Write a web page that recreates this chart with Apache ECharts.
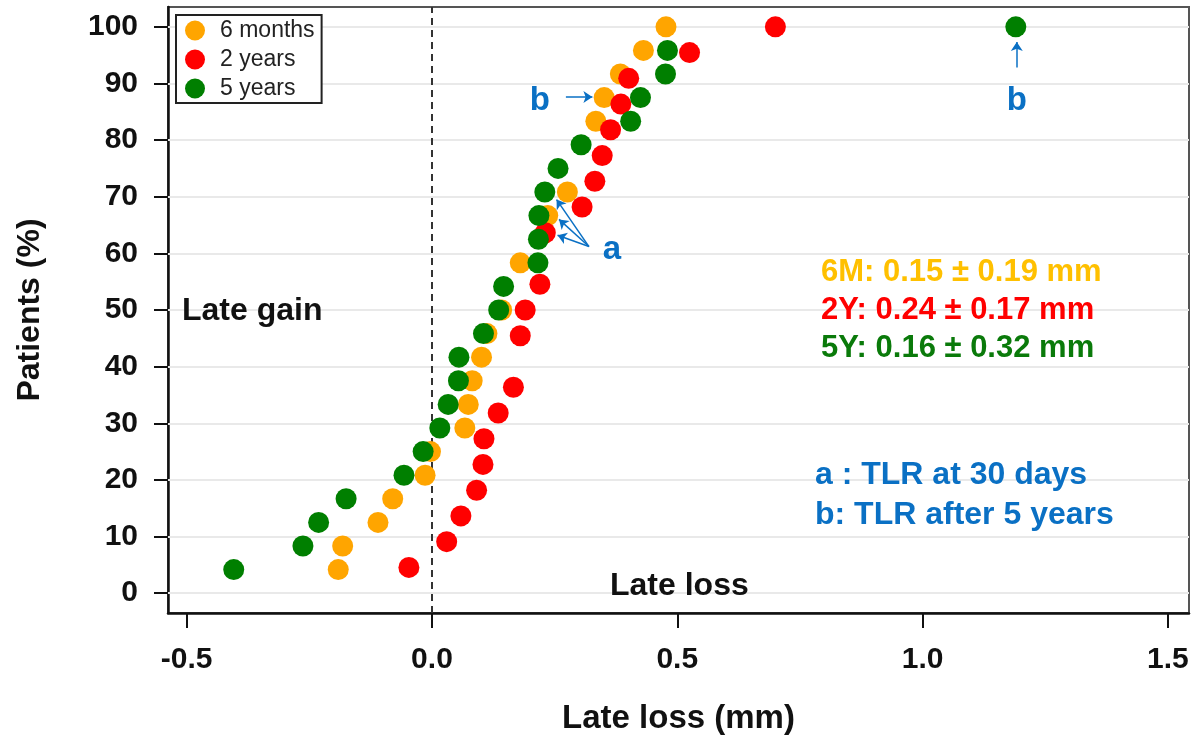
<!DOCTYPE html>
<html>
<head>
<meta charset="utf-8">
<script src="https://cdn.jsdelivr.net/npm/echarts@6/dist/echarts.min.js"></script>
<style>
html, body { margin: 0; padding: 0; background: #fff; }
#main { width: 1192px; height: 735px; }
</style>
</head>
<body>
<div id="main"></div>
<script>
// tick labels
var xTicks = [-0.5, 0.0, 0.5, 1.0, 1.5];
var yTicks = [0, 10, 20, 30, 40, 50, 60, 70, 80, 90, 100];

// 6 months: cumulative % of patients vs late loss (mm)
var pct6m  = [4.17, 8.33, 12.5, 16.67, 20.83, 25, 29.17, 33.33, 37.5, 41.67, 45.83, 50, 58.33, 66.67, 70.83, 83.33, 87.5, 91.67, 95.83, 100];
var loss6m = [-0.191, -0.182, -0.110, -0.080, -0.014, -0.003, 0.067, 0.074, 0.082, 0.101, 0.112, 0.142, 0.180, 0.236, 0.276, 0.334, 0.351, 0.384, 0.431, 0.477];

// 2 years
var pct2y  = [4.55, 9.09, 13.64, 18.18, 22.73, 27.27, 31.82, 36.36, 45.45, 50, 54.55, 63.64, 68.18, 72.73, 77.27, 81.82, 86.36, 90.91, 95.45, 100];
var loss2y = [-0.047, 0.030, 0.059, 0.091, 0.104, 0.106, 0.135, 0.166, 0.180, 0.190, 0.220, 0.231, 0.306, 0.332, 0.347, 0.364, 0.385, 0.401, 0.525, 0.700];

// 5 years
var pct5y  = [4.17, 8.33, 12.5, 16.67, 20.83, 25, 29.17, 33.33, 37.5, 41.67, 45.83, 50, 54.17, 58.33, 62.5, 66.67, 70.83, 75, 79.17, 83.33, 87.5, 91.67, 95.83, 100];
var loss5y = [-0.404, -0.263, -0.231, -0.175, -0.057, -0.018, 0.016, 0.033, 0.054, 0.055, 0.105, 0.136, 0.146, 0.216, 0.217, 0.218, 0.230, 0.257, 0.304, 0.405, 0.425, 0.476, 0.480, 1.190];

var seriesNames = ['6 months', '2 years', '5 years'];
var seriesColors = ['#FFA500', '#FF0000', '#007F00'];

var FONT = 'Liberation Sans, Arial, Helvetica, sans-serif';
var BLUE = '#0A70C4';

function pairs(xs, ys) {
  var out = [];
  for (var i = 0; i < xs.length; i++) out.push([xs[i], ys[i]]);
  return out;
}

function note(x, y, text, color, size) {
  return {
    type: 'text', x: x, y: y, z: 100,
    style: { text: text, fill: color, font: 'bold ' + size + 'px ' + FONT, verticalAlign: 'middle' }
  };
}

var myChart = echarts.init(document.getElementById('main'));

var option = {
  animation: false,
  backgroundColor: '#fff',
  grid: {
    left: 168, right: 3, top: 7, bottom: 122,
    outerBoundsMode: 'none',
    containLabel: false,
    show: true, borderColor: '#555', borderWidth: 2
  },
  legend: {
    data: seriesNames,
    orient: 'vertical',
    left: 176, top: 15,
    z: 50,
    icon: 'circle',
    itemWidth: 20, itemHeight: 20,
    itemGap: 6,
    padding: [4, 7, 3, 9],
    borderColor: '#222', borderWidth: 2,
    backgroundColor: '#fff',
    textStyle: { fontFamily: FONT, fontSize: 23, color: '#222', padding: [0, 0, 0, 10] }
  },
  xAxis: {
    type: 'value',
    min: -0.538, max: 1.543,
    name: 'Late loss (mm)',
    nameLocation: 'middle',
    nameGap: 89,
    nameTextStyle: { fontFamily: FONT, fontSize: 33, fontWeight: 'bold', color: '#111' },
    axisLine: { show: true, onZero: false, lineStyle: { color: '#111', width: 2.5 } },
    axisTick: { show: true, length: 15, customValues: xTicks, lineStyle: { color: '#111', width: 2 } },
    axisLabel: {
      show: true, margin: 32, customValues: xTicks,
      fontFamily: FONT, fontSize: 30, fontWeight: 'bold', color: '#111',
      formatter: function (v) { return v.toFixed(1); }
    },
    splitLine: { show: false }
  },
  yAxis: {
    type: 'value',
    min: -3.5, max: 103.5,
    name: 'Patients (%)',
    nameLocation: 'middle',
    nameGap: 122,
    nameTextStyle: { fontFamily: FONT, fontSize: 32, fontWeight: 'bold', color: '#111' },
    axisLine: { show: true, onZero: false, lineStyle: { color: '#111', width: 2.5 } },
    axisTick: { show: true, length: 14, customValues: yTicks, lineStyle: { color: '#111', width: 2 } },
    axisLabel: {
      show: true, margin: 30, customValues: yTicks,
      fontFamily: FONT, fontSize: 30, fontWeight: 'bold', color: '#111'
    },
    splitLine: { show: false }
  },
  series: [
    {
      name: 'guides',
      type: 'scatter',
      data: [],
      silent: true,
      z: 1,
      markLine: {
        z: 1,
        silent: true,
        symbol: 'none',
        animation: false,
        label: { show: false },
        data: yTicks.map(function (v) {
          return { yAxis: v, lineStyle: { color: '#e9e9e9', width: 2, type: 'solid' } };
        }).concat([
          { xAxis: 0, lineStyle: { color: '#333', width: 2, type: [7, 5] } }
        ])
      }
    },
    {
      name: seriesNames[0], type: 'scatter', symbolSize: 21, z: 2,
      itemStyle: { color: seriesColors[0], opacity: 1 },
      data: pairs(loss6m, pct6m)
    },
    {
      name: seriesNames[1], type: 'scatter', symbolSize: 21, z: 3,
      itemStyle: { color: seriesColors[1], opacity: 1 },
      data: pairs(loss2y, pct2y)
    },
    {
      name: seriesNames[2], type: 'scatter', symbolSize: 21, z: 4,
      itemStyle: { color: seriesColors[2], opacity: 1 },
      data: pairs(loss5y, pct5y)
    },
    {
      name: 'notes',
      type: 'scatter',
      data: [],
      silent: true,
      z: 5,
      markLine: {
        z: 6,
        silent: true,
        animation: false,
        symbol: ['none', 'arrow'],
        symbolSize: 9,
        label: { show: false },
        lineStyle: { color: BLUE, width: 1.5, type: 'solid' },
        data: [
          [{ coord: [0.273, 87.6] }, { coord: [0.327, 87.6] }],
          [{ coord: [1.192, 92.8] }, { coord: [1.192, 97.3] }],
          [{ coord: [0.320, 61.2] }, { coord: [0.254, 69.5] }],
          [{ coord: [0.320, 61.2] }, { coord: [0.259, 66.0] }],
          [{ coord: [0.320, 61.2] }, { coord: [0.256, 63.2] }]
        ]
      },
      markPoint: {
        z: 6,
        silent: true,
        animation: false,
        symbol: 'circle',
        symbolSize: 1,
        itemStyle: { color: 'rgba(0,0,0,0)' },
        label: {
          show: true, position: 'inside',
          fontFamily: FONT, fontSize: 33, fontWeight: 'bold', color: BLUE,
          formatter: function (p) { return p.name; }
        },
        data: [
          { name: 'b', coord: [0.220, 87.0] },
          { name: 'b', coord: [1.192, 87.0] },
          { name: 'a', coord: [0.367, 60.6] }
        ]
      }
    }
  ],
  graphic: [
    note(182, 311, 'Late gain', '#111', 32),
    note(610, 586, 'Late loss', '#111', 32),
    note(821, 272, '6M: 0.15 ± 0.19 mm', '#FFC000', 31),
    note(821, 310, '2Y: 0.24 ± 0.17 mm', '#FF0000', 31),
    note(821, 348, '5Y: 0.16 ± 0.32 mm', '#0A7A0A', 31),
    note(815, 475, 'a : TLR at 30 days', BLUE, 32),
    note(815, 515, 'b: TLR after 5 years', BLUE, 32)
  ]
};

myChart.setOption(option);
</script>
</body>
</html>
